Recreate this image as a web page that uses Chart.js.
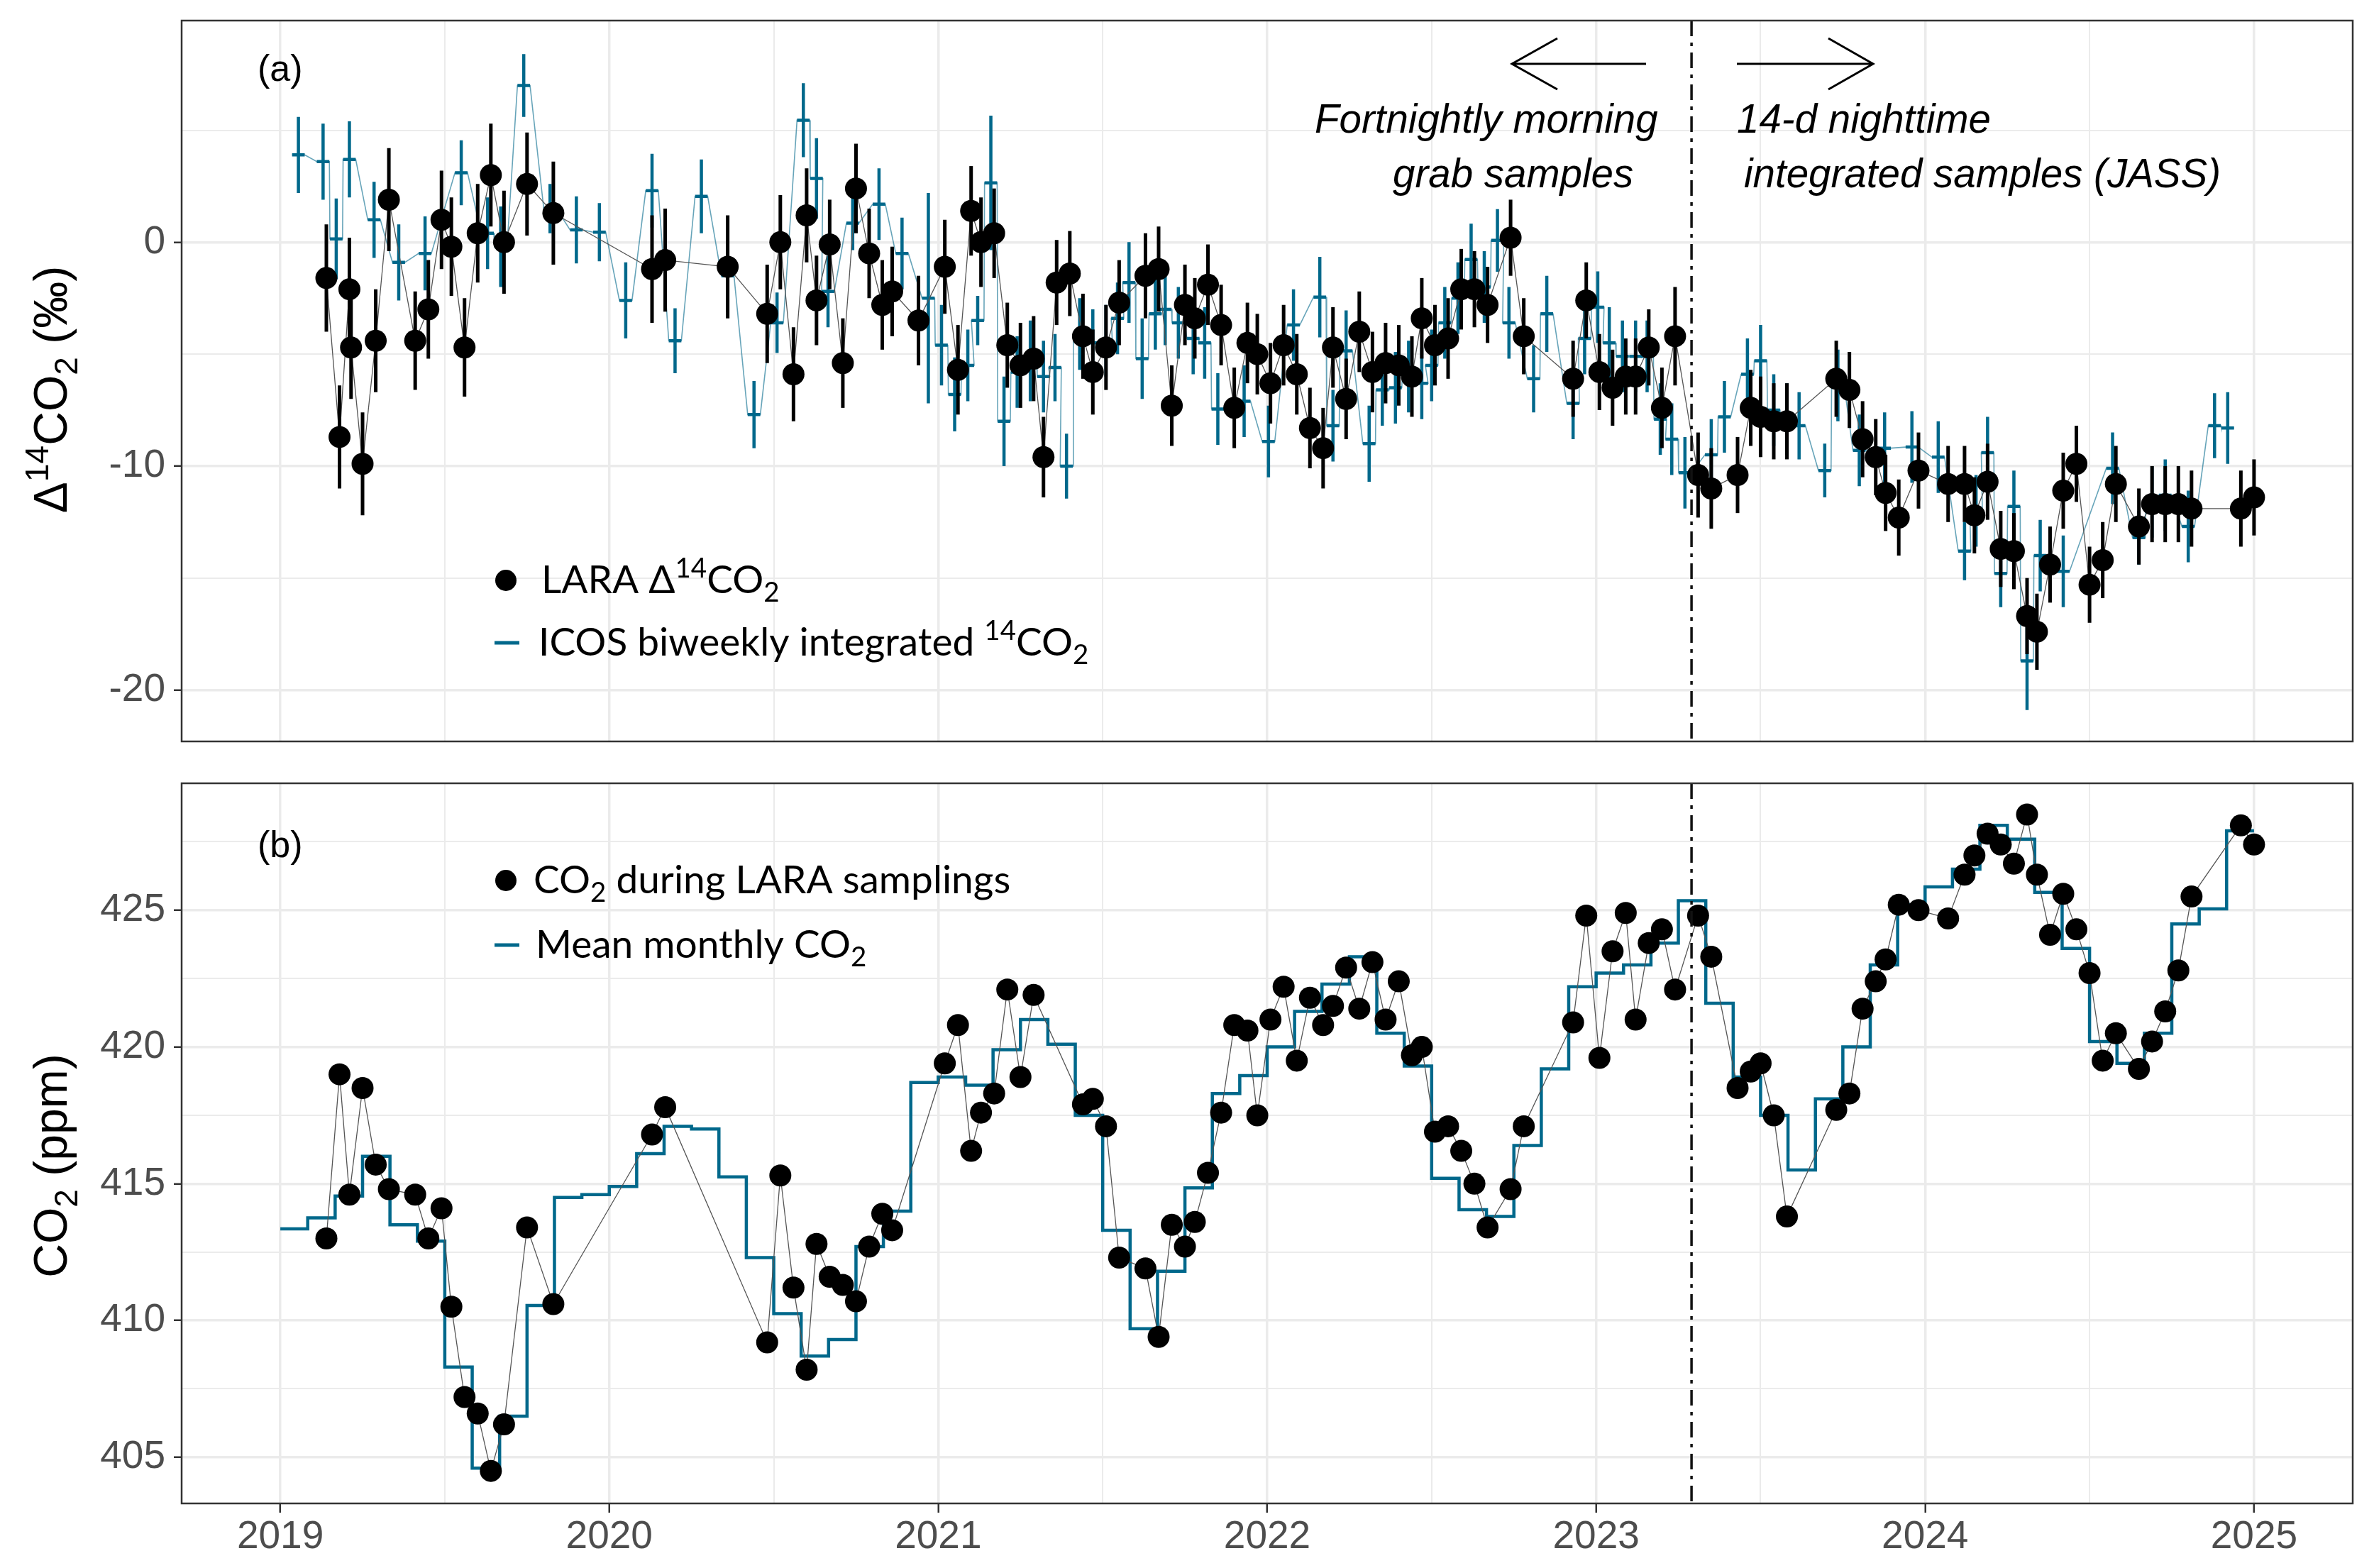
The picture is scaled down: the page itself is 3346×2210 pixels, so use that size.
<!DOCTYPE html>
<html>
<head>
<meta charset="utf-8">
<script src="https://cdn.jsdelivr.net/npm/chart.js@4.4.1/dist/chart.umd.min.js"></script>
<style>
  html, body { margin: 0; padding: 0; background: #fff; }
  #wrap { position: relative; width: 3346px; height: 2210px; }
  canvas { position: absolute; left: 0; }
  #c1 { top: 0; }
  #c2 { top: 1075px; }
</style>
</head>
<body>
<div id="wrap">
  <canvas id="c1" width="3346" height="1075"></canvas>
  <canvas id="c2" width="3346" height="1135"></canvas>
</div>
<script>
// LARA sampling dates (decimal years), Δ14CO2 (‰), its uncertainty and CO2 (ppm)
const laraDates = [
  2019.14, 2019.18, 2019.21, 2019.215, 2019.25, 2019.29, 2019.33, 2019.41, 2019.45, 2019.49, 2019.52, 2019.56, 2019.60, 2019.64, 2019.68, 2019.75, 2019.83,
  2020.13, 2020.17, 2020.36, 2020.48, 2020.52, 2020.56, 2020.60, 2020.63, 2020.67, 2020.71, 2020.75, 2020.79, 2020.83, 2020.86, 2020.94,
  2021.02, 2021.06, 2021.10, 2021.13, 2021.17, 2021.21, 2021.25, 2021.29, 2021.32, 2021.36, 2021.40, 2021.44, 2021.47, 2021.51, 2021.55, 2021.63, 2021.67, 2021.71, 2021.75, 2021.78, 2021.82, 2021.86, 2021.90, 2021.94, 2021.97,
  2022.01, 2022.05, 2022.09, 2022.13, 2022.17, 2022.20, 2022.24, 2022.28, 2022.32, 2022.36, 2022.40, 2022.44, 2022.47, 2022.51, 2022.55, 2022.59, 2022.63, 2022.67, 2022.74, 2022.78, 2022.93, 2022.97,
  2023.01, 2023.05, 2023.09, 2023.12, 2023.16, 2023.20, 2023.24, 2023.31, 2023.35, 2023.43, 2023.47, 2023.50, 2023.54, 2023.58, 2023.73, 2023.77, 2023.81, 2023.85, 2023.88, 2023.92, 2023.98,
  2024.07, 2024.12, 2024.15, 2024.19, 2024.23, 2024.27, 2024.31, 2024.34, 2024.38, 2024.42, 2024.46, 2024.50, 2024.54, 2024.58, 2024.65, 2024.69, 2024.73, 2024.77, 2024.81, 2024.96, 2025.00
];
const laraD14C = [
  -1.6, -8.7, -2.1, -4.7, -9.9, -4.4, 1.9, -4.4, -3.0, 1.0, -0.2, -4.7, 0.4, 3.0, 0.0, 2.6, 1.3,
  -1.2, -0.8, -1.1, -3.2, 0.0, -5.9, 1.2, -2.6, -0.1, -5.4, 2.4, -0.5, -2.8, -2.2, -3.5,
  -1.1, -5.7, 1.4, 0.0, 0.4, -4.6, -5.5, -5.2, -9.6, -1.8, -1.4, -4.2, -5.8, -4.7, -2.7, -1.5, -1.2, -7.3, -2.8, -3.4, -1.9, -3.7, -7.4, -4.5, -5.0,
  -6.3, -4.6, -5.9, -8.3, -9.2, -4.7, -7.0, -4.0, -5.8, -5.4, -5.5, -6.0, -3.4, -4.6, -4.3, -2.1, -2.1, -2.8, 0.2, -4.2, -6.1, -2.6,
  -5.8, -6.5, -6.0, -6.0, -4.7, -7.4, -4.2, -10.4, -11.0, -10.4, -7.4, -7.8, -8.0, -8.0, -6.1, -6.6, -8.8, -9.6, -11.2, -12.3, -10.2,
  -10.8, -10.8, -12.2, -10.7, -13.7, -13.8, -16.7, -17.4, -14.4, -11.1, -9.9, -15.3, -14.2, -10.8, -12.7, -11.7, -11.7, -11.7, -11.9, -11.9, -11.4
];
const laraErr = [
  2.4, 2.3, 2.3, 2.3, 2.3, 2.3, 2.3, 2.2, 2.2, 2.2, 2.2, 2.2, 2.2, 2.3, 2.3, 2.3, 2.3,
  2.4, 2.3, 2.3, 2.2, 2.1, 2.1, 2.1, 2.0, 2.0, 2.0, 2.0, 2.0, 2.0, 2.0, 2.0,
  2.1, 2.0, 2.0, 2.0, 2.0, 1.9, 1.9, 1.9, 1.8, 1.9, 1.9, 1.9, 1.9, 1.9, 1.9, 1.9, 1.9, 1.8, 1.8, 1.8, 1.8, 1.8, 1.8, 1.8, 1.8,
  1.8, 1.8, 1.8, 1.8, 1.8, 1.8, 1.8, 1.8, 1.8, 1.8, 1.8, 1.8, 1.8, 1.8, 1.8, 1.8, 1.7, 1.7, 1.7, 1.7, 1.7, 1.7,
  1.7, 1.7, 1.7, 1.7, 1.7, 1.8, 2.2, 1.9, 1.8, 1.7, 1.7, 1.8, 1.7, 1.7, 1.7, 1.7, 1.7, 1.7, 1.7, 1.7, 1.7,
  1.7, 1.7, 1.7, 1.7, 1.7, 1.7, 1.7, 1.7, 1.7, 1.7, 1.7, 1.7, 1.7, 1.7, 1.7, 1.7, 1.7, 1.7, 1.7, 1.7, 1.7
];
const laraCO2 = [
  413.0, 419.0, 414.6, null, 418.5, 415.7, 414.8, 414.6, 413.0, 414.1, 410.5, 407.2, 406.6, 404.5, 406.2, 413.4, 410.6,
  416.8, 417.8, null, 409.2, 415.3, 411.2, 408.2, 412.8, 411.6, 411.3, 410.7, 412.7, 413.9, 413.3, null,
  419.4, 420.8, 416.2, 417.6, 418.3, 422.1, 418.9, 421.9, null, null, null, 417.9, 418.1, 417.1, 412.3, 411.9, 409.4, 413.5, 412.7, 413.6, 415.4, 417.6, 420.8, 420.6, 417.5,
  421.0, 422.2, 419.5, 421.8, 420.8, 421.5, 422.9, 421.4, 423.1, 421.0, 422.4, 419.7, 420.0, 416.9, 417.1, 416.2, 415.0, 413.4, 414.8, 417.1, 420.9, 424.8,
  419.6, 423.5, 424.9, 421.0, 423.8, 424.3, 422.1, 424.8, 423.3, 418.5, 419.1, 419.4, 417.5, 413.8, 417.7, 418.3, 421.4, 422.4, 423.2, 425.2, 425.0,
  424.7, 426.3, 427.0, 427.8, 427.4, 426.7, 428.5, 426.3, 424.1, 425.6, 424.3, 422.7, 419.5, 420.5, 419.2, 420.2, 421.3, 422.8, 425.5, 428.1, 427.4
];

// ICOS biweekly integrated samples: centre dates, Δ14CO2 (‰), uncertainty
const icosDates = [
  2019.055, 2019.13, 2019.17, 2019.21, 2019.285, 2019.36, 2019.44, 2019.55, 2019.63, 2019.67, 2019.74, 2019.82, 2019.90, 2019.97,
  2020.05, 2020.13, 2020.20, 2020.28, 2020.36, 2020.44, 2020.51, 2020.59, 2020.63, 2020.665, 2020.74, 2020.82, 2020.89, 2020.97,
  2021.01, 2021.05, 2021.09, 2021.12, 2021.16, 2021.20, 2021.24, 2021.28, 2021.32, 2021.355, 2021.39, 2021.43, 2021.47, 2021.51, 2021.545, 2021.58, 2021.62, 2021.66, 2021.69, 2021.73, 2021.775, 2021.81, 2021.85, 2021.93,
  2022.004, 2022.08, 2022.16, 2022.20, 2022.24, 2022.31, 2022.35, 2022.39, 2022.43, 2022.47, 2022.50, 2022.54, 2022.58, 2022.62, 2022.66, 2022.70, 2022.735, 2022.81, 2022.85, 2022.93, 2022.965,
  2023.005, 2023.04, 2023.08, 2023.12, 2023.155, 2023.195, 2023.23, 2023.27, 2023.35, 2023.39, 2023.46, 2023.50, 2023.54, 2023.58, 2023.617, 2023.695, 2023.735, 2023.80, 2023.877, 2023.96,
  2024.04, 2024.12, 2024.155, 2024.19, 2024.23, 2024.27, 2024.31, 2024.35, 2024.42, 2024.57, 2024.65, 2024.69, 2024.73, 2024.80, 2024.88, 2024.92
];
const icosD14C = [
  3.9, 3.6, 0.15, 3.7, 1.0, -0.9, -0.5, 3.1, 0.4, -0.2, 7.0, 1.5, 0.55, 0.45,
  -2.6, 2.3, -4.4, 2.05, -1.5, -7.7, -3.6, 5.45, 2.85, -2.2, 0.85, 1.7, -0.5, -2.5,
  -4.6, -6.8, -5.5, -3.5, 2.65, -8.0, -5.8, -5.3, -6.0, -5.6, -10.0, -4.1, -4.5, -4.4, -3.4, -1.8, -5.2, -3.2, -3.0, -3.6, -4.3, -4.5, -7.45, -7.1,
  -8.9, -3.7, -2.45, -8.2, -4.85, -9.0, -6.6, -6.5, -6.0, -6.3, -5.5, -3.6, -2.5, -0.77, -2.0, 0.08, -3.6, -6.1, -3.2, -7.2, -4.3,
  -2.9, -4.5, -5.1, -5.1, -5.1, -7.9, -8.8, -10.3, -9.5, -7.8, -5.9, -5.3, -7.5, -7.9, -8.2, -10.2, -6.4, -9.3, -9.2, -9.15,
  -9.6, -13.8, -12.0, -9.4, -14.8, -11.8, -18.7, -14.0, -14.7, -10.1, -13.2, -11.6, -11.3, -12.7, -8.2, -8.3
];
const icosErr = [
  1.7, 1.7, 1.8, 1.7, 1.7, 1.7, 1.65, 1.45, 1.6, 1.8, 1.4, 1.1, 1.5, 1.3,
  1.7, 1.65, 1.45, 1.65, 1.6, 1.5, 1.35, 1.65, 1.8, 1.6, 1.2, 1.6, 1.6, 4.7,
  1.8, 1.65, 1.6, 1.1, 3.0, 2.0, 1.6, 1.8, 1.6, 1.5, 1.45, 1.6, 1.5, 1.6, 1.6, 1.8, 1.8, 1.6, 1.6, 1.6, 1.6, 1.6, 1.6, 1.6,
  1.6, 1.6, 1.8, 1.6, 1.8, 1.7, 1.6, 1.6, 1.6, 1.6, 1.6, 1.6, 1.6, 1.6, 1.6, 1.4, 1.6, 1.5, 1.7, 1.6, 1.6,
  1.6, 1.6, 1.6, 1.6, 1.6, 1.6, 1.6, 1.6, 1.6, 1.6, 1.6, 1.6, 1.6, 1.6, 1.5, 1.2, 1.6, 1.6, 1.6, 1.6,
  1.6, 1.3, 1.6, 1.6, 1.5, 1.6, 2.2, 1.6, 1.6, 1.6, 1.2, 1.6, 1.6, 1.6, 1.45, 1.6
];
const icosHalfPeriod = 7 / 365.25; // 14-day integration

// mean monthly CO2 (ppm), January 2019 .. December 2024
const monthlyCO2 = [
  413.35, 413.75, 414.55, 416.0, 413.5, 412.9, 408.3, 404.6, 406.5, 410.55, 414.5, 414.6,
  414.9, 416.1, 417.1, 417.0, 415.25, 412.3, 410.25, 408.7, 409.3, 412.7, 414.0, 418.7,
  418.9, 418.6, 419.9, 421.0, 420.1, 417.5, 413.3, 409.7, 411.8, 414.85, 418.3, 418.95,
  420.0, 421.3, 422.3, 423.3, 420.5, 419.3, 415.2, 414.05, 413.8, 416.4, 419.2, 422.2,
  422.7, 423.0, 423.8, 425.35, 421.6, 418.9, 417.5, 415.5, 418.1, 420.0, 423.0, 425.2,
  425.85, 426.5, 428.1, 427.6, 425.65, 423.6, 420.2, 419.4, 420.5, 424.5, 425.05, 427.9
];
const monthlyStartYear = 2019;

// axis breaks
const xTicks = [2019, 2019.5, 2020, 2020.5, 2021, 2021.5, 2022, 2022.5, 2023, 2023.5, 2024, 2024.5, 2025];
const xLabels = [2019, 2020, 2021, 2022, 2023, 2024, 2025];
const topYTicks = [-20, -15, -10, -5, 0, 5];
const topYLabels = [-20, -10, 0];
const botYTicks = [405, 407.5, 410, 412.5, 415, 417.5, 420, 422.5, 425, 427.5];
const botYLabels = [405, 410, 415, 420, 425];
const switchDate = 2023.29; // grab samples -> JASS

const ICOS_COLOR = '#00688b';
const GRID = '#ebebeb';
const SANS = 'Liberation Sans, Arial, sans-serif';
const TICK_FONT = { family: SANS, size: 55 };
const LEGEND_FAMILY = 'Lato, "Open Sans", sans-serif';

function isIn(list, v) {
  return list.some(t => Math.abs(t - v) < 1e-6);
}

// text with super/subscripts: parts = [[text, mode]], mode 1 = sup, -1 = sub
function richWidth(ctx, parts, size, family, style) {
  let w = 0;
  parts.forEach(([t, m]) => {
    ctx.font = `${style || ''} ${m ? size * 0.7 : size}px ${family}`;
    w += ctx.measureText(t).width;
  });
  return w;
}
function drawRich(ctx, parts, x, y, size, family, style) {
  let cx = x;
  ctx.textAlign = 'left';
  ctx.textBaseline = 'alphabetic';
  parts.forEach(([t, m]) => {
    ctx.font = `${style || ''} ${m ? size * 0.7 : size}px ${family}`;
    const dy = m === 1 ? -size * 0.4 : m === -1 ? size * 0.22 : 0;
    ctx.fillText(t, cx, y + dy);
    cx += ctx.measureText(t).width;
  });
}

function xAxis(withLabels) {
  return {
    type: 'linear',
    min: 2018.70,
    max: 2025.30,
    afterBuildTicks: s => { s.ticks = xTicks.map(v => ({ value: v })); },
    afterFit: s => {
      s.height = withLabels ? 91 : 0;
      s.paddingLeft = 0; s.paddingRight = 0;
    },
    grid: {
      color: GRID,
      lineWidth: c => isIn(xLabels, c.tick.value) ? 3.5 : 2,
      drawTicks: withLabels,
      tickLength: 13,
      tickWidth: 2.5,
      tickColor: c => isIn(xLabels, c.tick.value) ? '#333' : 'rgba(0,0,0,0)'
    },
    border: { display: false },
    ticks: {
      display: withLabels,
      autoSkip: false,
      maxRotation: 0,
      padding: 2,
      color: '#4d4d4d',
      font: TICK_FONT,
      callback: v => isIn(xLabels, v) ? String(v) : ''
    }
  };
}

function yAxis(min, max, ticks, labels) {
  return {
    type: 'linear',
    min: min,
    max: max,
    afterBuildTicks: s => { s.ticks = ticks.map(v => ({ value: v })); },
    afterFit: s => {
      s.width = 256;
      s.paddingTop = 0; s.paddingBottom = 0;
    },
    grid: {
      color: GRID,
      lineWidth: c => isIn(labels, c.tick.value) ? 3.5 : 2,
      drawTicks: true,
      tickLength: 11,
      tickWidth: 2.5,
      tickColor: c => isIn(labels, c.tick.value) ? '#333' : 'rgba(0,0,0,0)'
    },
    border: { display: false },
    ticks: {
      autoSkip: false,
      padding: 12,
      color: '#4d4d4d',
      font: TICK_FONT,
      callback: v => isIn(labels, v) ? String(v) : ''
    }
  };
}

// vertical (and for ICOS horizontal) error bars, drawn right after their dataset
const errorBars = {
  id: 'errorBars',
  afterDatasetDraw(chart, args) {
    const ds = chart.data.datasets[args.index];
    if (!ds.errBars) return;
    const { ctx, chartArea: a, scales: { x, y } } = chart;
    ctx.save();
    ctx.beginPath();
    ctx.rect(a.left, a.top, a.right - a.left, a.bottom - a.top);
    ctx.clip();
    ctx.strokeStyle = ds.errColor;
    ctx.lineWidth = ds.errWidth;
    ctx.lineCap = 'butt';
    ds.errBars.forEach(e => {
      const px = x.getPixelForValue(e.x);
      ctx.beginPath();
      ctx.moveTo(px, y.getPixelForValue(e.y - e.err));
      ctx.lineTo(px, y.getPixelForValue(e.y + e.err));
      if (e.half) {
        const py = y.getPixelForValue(e.y);
        ctx.moveTo(x.getPixelForValue(e.x - e.half), py);
        ctx.lineTo(x.getPixelForValue(e.x + e.half), py);
      }
      ctx.stroke();
    });
    ctx.restore();
  }
};

// panel frame, regime change line, labels and legends
const decorations = {
  id: 'decorations',
  afterDraw(chart) {
    const { ctx, chartArea: a, scales: { x } } = chart;
    const o = chart.options.plugins.decorations;
    ctx.save();

    // dot-dash line at the sampling switch
    const sx = x.getPixelForValue(switchDate);
    ctx.strokeStyle = '#111';
    ctx.lineWidth = 3.5;
    ctx.setLineDash([22, 9, 5, 9]);
    ctx.beginPath();
    ctx.moveTo(sx, a.top);
    ctx.lineTo(sx, a.bottom);
    ctx.stroke();
    ctx.setLineDash([]);

    // frame
    ctx.strokeStyle = '#333';
    ctx.lineWidth = 2.5;
    ctx.strokeRect(a.left, a.top, a.right - a.left, a.bottom - a.top);

    ctx.fillStyle = '#000';
    // panel tag
    ctx.font = `52px ${SANS}`;
    ctx.textAlign = 'left';
    ctx.textBaseline = 'alphabetic';
    ctx.fillText(o.tag, 363, o.tagY);

    // y-axis title, rotated
    const tw = richWidth(ctx, o.yTitle, 66, SANS);
    ctx.save();
    ctx.translate(94, o.yTitleY);
    ctx.rotate(-Math.PI / 2);
    drawRich(ctx, o.yTitle, -tw / 2, 0, 66, SANS);
    ctx.restore();

    // legend
    o.legend.forEach(item => {
      if (item.kind === 'dot') {
        ctx.fillStyle = '#000';
        ctx.beginPath();
        ctx.arc(713, item.y, 15, 0, Math.PI * 2);
        ctx.fill();
      } else {
        ctx.strokeStyle = ICOS_COLOR;
        ctx.lineWidth = 5;
        ctx.beginPath();
        ctx.moveTo(697, item.y);
        ctx.lineTo(732, item.y);
        ctx.stroke();
      }
      ctx.fillStyle = '#000';
      drawRich(ctx, item.text, item.tx, item.y + 18, 55, LEGEND_FAMILY);
    });

    // annotations about the two sampling strategies
    if (o.notes) {
      ctx.fillStyle = '#000';
      ctx.font = `italic 56.5px ${SANS}`;
      ctx.textAlign = 'left';
      ctx.fillText('Fortnightly morning', 1853, 187);
      ctx.fillText('grab samples', 1963, 264);
      ctx.fillText('14-d nighttime', 2448, 187);
      ctx.fillText('integrated samples (JASS)', 2458, 264);

      ctx.strokeStyle = '#000';
      ctx.lineWidth = 3;
      ctx.beginPath();
      ctx.moveTo(2320, 90); ctx.lineTo(2131, 90);
      ctx.moveTo(2195, 54); ctx.lineTo(2131, 90); ctx.lineTo(2195, 126);
      ctx.moveTo(2448, 90); ctx.lineTo(2640, 90);
      ctx.moveTo(2577, 54); ctx.lineTo(2640, 90); ctx.lineTo(2577, 126);
      ctx.stroke();
    }
    ctx.restore();
  }
};

// build points from the arrays
const laraTop = laraDates.map((d, i) => ({ x: d, y: laraD14C[i] }));
const laraBars = laraDates.map((d, i) => ({ x: d, y: laraD14C[i], err: laraErr[i] }));
const laraBottom = laraDates.map((d, i) => ({ x: d, y: laraCO2[i] }));
const icosBars = icosDates.map((d, i) => ({ x: d, y: icosD14C[i], err: icosErr[i], half: icosHalfPeriod }));
const icosPath = [];
icosDates.forEach((d, i) => {
  icosPath.push({ x: d - icosHalfPeriod, y: icosD14C[i] });
  icosPath.push({ x: d + icosHalfPeriod, y: icosD14C[i] });
});
const monthlyPath = monthlyCO2.map((v, i) => ({ x: monthlyStartYear + i / 12, y: v }));
monthlyPath.push({ x: monthlyStartYear + monthlyCO2.length / 12, y: monthlyCO2[monthlyCO2.length - 1] });

Chart.defaults.font.family = SANS;

const baseOptions = {
  responsive: false,
  animation: false,
  devicePixelRatio: 1,
  events: []
};

new Chart(document.getElementById('c1'), {
  type: 'scatter',
  data: {
    datasets: [
      {
        data: icosPath, showLine: true, borderColor: 'rgba(0,104,139,0.6)', borderWidth: 1.6,
        pointRadius: 0, order: 3,
        errBars: icosBars, errColor: ICOS_COLOR, errWidth: 4.5
      },
      {
        data: laraTop, showLine: true, borderColor: '#555', borderWidth: 1.3,
        pointRadius: 0, order: 2,
        errBars: laraBars, errColor: '#000', errWidth: 5
      },
      {
        data: laraTop, showLine: false, pointRadius: 15.5,
        pointBackgroundColor: '#000', pointBorderWidth: 0, order: 1
      }
    ]
  },
  options: Object.assign({}, baseOptions, {
    layout: { padding: { left: 0, right: 30, top: 29, bottom: 30 } },
    scales: {
      x: xAxis(false),
      y: yAxis(-22.3, 9.9, topYTicks, topYLabels)
    },
    plugins: {
      legend: { display: false },
      tooltip: { enabled: false },
      decorations: {
        tag: '(a)', tagY: 114,
        yTitle: [['Δ', 0], ['14', 1], ['CO', 0], ['2', -1], [' (‰)', 0]],
        yTitleY: 549,
        notes: true,
        legend: [
          { kind: 'dot', y: 818, tx: 763, text: [['LARA Δ', 0], ['14', 1], ['CO', 0], ['2', -1]] },
          { kind: 'dash', y: 906, tx: 759, text: [['ICOS biweekly integrated ', 0], ['14', 1], ['CO', 0], ['2', -1]] }
        ]
      }
    }
  }),
  plugins: [errorBars, decorations]
});

new Chart(document.getElementById('c2'), {
  type: 'scatter',
  data: {
    datasets: [
      {
        data: monthlyPath, showLine: true, stepped: true, borderColor: ICOS_COLOR, borderWidth: 4.5,
        pointRadius: 0, order: 2
      },
      {
        data: laraBottom, showLine: true, spanGaps: true, borderColor: '#555', borderWidth: 1.3,
        pointRadius: 15.5, pointBackgroundColor: '#000', pointBorderWidth: 0, order: 1
      }
    ]
  },
  options: Object.assign({}, baseOptions, {
    layout: { padding: { left: 0, right: 30, top: 29, bottom: 0 } },
    scales: {
      x: xAxis(true),
      y: yAxis(403.31, 429.64, botYTicks, botYLabels)
    },
    plugins: {
      legend: { display: false },
      tooltip: { enabled: false },
      decorations: {
        tag: '(b)', tagY: 133,
        yTitle: [['CO', 0], ['2', -1], [' (ppm)', 0]],
        yTitleY: 568,
        notes: false,
        legend: [
          { kind: 'dot', y: 166, tx: 752, text: [['CO', 0], ['2', -1], [' during LARA samplings', 0]] },
          { kind: 'dash', y: 257, tx: 755, text: [['Mean monthly CO', 0], ['2', -1]] }
        ]
      }
    }
  }),
  plugins: [errorBars, decorations]
});
</script>
</body>
</html>
